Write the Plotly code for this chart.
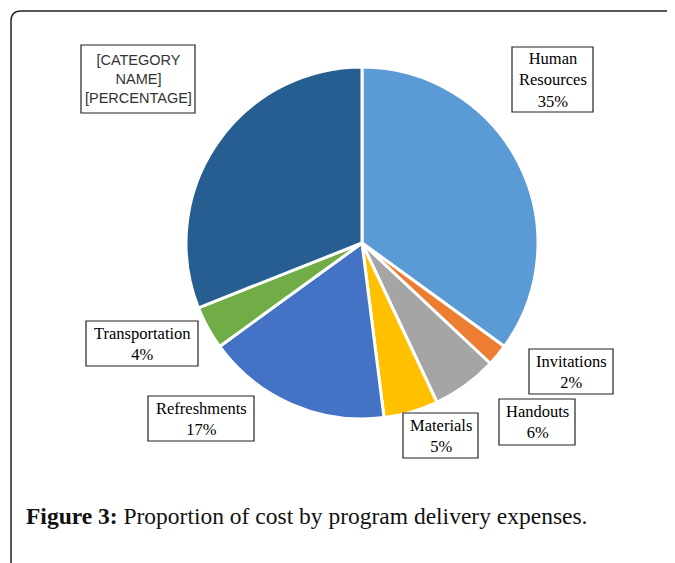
import plotly.graph_objects as go

categories = ["Human Resources", "Invitations", "Handouts", "Materials",
              "Refreshments", "Transportation", "[CATEGORY NAME]"]
percentages = [35, 2, 6, 5, 17, 4, 31]
colors = ["#5B9BD5", "#ED7D31", "#A5A5A5", "#FFC000", "#4472C4", "#70AD47", "#275E91"]

OFF = 8  # page body margin
W, H = 675 - OFF, 563 - OFF

def px(x):
    return (x - OFF) / W

def py(y):
    return 1 - (y - OFF) / H

CX, CY, R = 362, 243, 176

fig = go.Figure()
fig.add_trace(go.Pie(
    labels=categories, values=percentages, sort=False, direction="clockwise",
    rotation=0, textinfo="none", hoverinfo="label+percent",
    marker=dict(colors=colors, line=dict(color="white", width=3)),
    domain=dict(x=[px(CX - R), px(CX + R)], y=[py(CY + R), py(CY - R)]),
    showlegend=False,
))

# label boxes: (left, top, right, bottom) in pixels
boxes = {
    "Human Resources": (512, 47, 593, 112),
    "Invitations": (529, 349, 613, 394),
    "Handouts": (499, 399, 575, 445),
    "Materials": (403, 413, 478, 458),
    "Refreshments": (148, 396, 254, 441),
    "Transportation": (86, 321, 198, 366),
    "[CATEGORY NAME]": (81, 45, 195, 113),
}

shapes = []
annotations = []
for cat, val in zip(categories, percentages):
    l, t, r, b = boxes[cat]
    shapes.append(dict(type="rect", xref="paper", yref="paper",
                       x0=px(l), x1=px(r), y0=py(b), y1=py(t),
                       line=dict(color="#222222", width=1.2), fillcolor="white"))
    if cat == "[CATEGORY NAME]":
        txt = "[CATEGORY<br>NAME]<br>[PERCENTAGE]"
        font = dict(family="Liberation Sans, Arial", size=14.5, color="#333333")
    else:
        name = cat.replace(" ", "<br>")
        txt = f"{name}<br>{val}%"
        font = dict(family="Liberation Serif, Times New Roman", size=16.5, color="#000000")
    annotations.append(dict(xref="paper", yref="paper", x=px((l + r) / 2), y=py((t + b) / 2),
                            text=txt, showarrow=False, font=font, align="center",
                            xanchor="center", yanchor="middle"))

# frame
shapes.append(dict(type="path", xref="paper", yref="paper",
                   path=f"M {px(11)} {py(600)} L {px(11)} {py(21)} Q {px(11)} {py(11)} {px(21)} {py(11)} L {px(700)} {py(11)}",
                   line=dict(color="#222222", width=1.5)))

annotations.append(dict(xref="paper", yref="paper", x=px(24), y=py(516),
                        xanchor="left", yanchor="middle", showarrow=False,
                        text="<b>Figure 3:</b> Proportion of cost by program delivery expenses.",
                        font=dict(family="Liberation Serif, Times New Roman", size=23.5, color="#111111")))

fig.update_layout(width=W, height=H, margin=dict(l=0, r=0, t=0, b=0),
                  paper_bgcolor="white", plot_bgcolor="white",
                  shapes=shapes, annotations=annotations)

fig.write_html("out.html")
